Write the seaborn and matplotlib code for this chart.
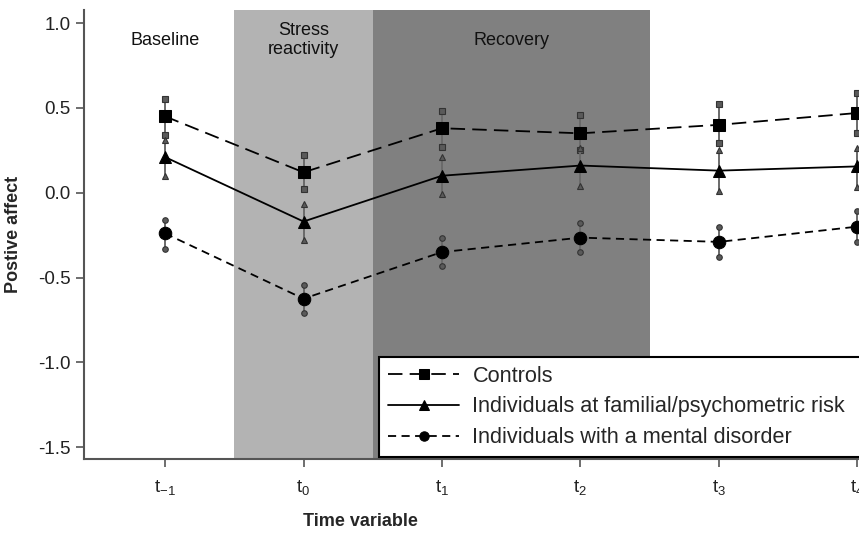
import numpy as np
import pandas as pd
import seaborn as sns
import matplotlib.pyplot as plt

time_points = [-1, 0, 1, 2, 3, 4]
time_labels = [r"$\mathregular{t_{-1}}$", r"$\mathregular{t_0}$", r"$\mathregular{t_1}$",
               r"$\mathregular{t_2}$", r"$\mathregular{t_3}$", r"$\mathregular{t_4}$"]
groups = ["Controls", "Individuals at familial/psychometric risk",
          "Individuals with a mental disorder"]

controls_mean = [0.45, 0.12, 0.38, 0.35, 0.40, 0.47]
controls_low = [0.34, 0.02, 0.27, 0.25, 0.29, 0.35]
controls_high = [0.55, 0.22, 0.48, 0.46, 0.52, 0.59]

risk_mean = [0.21, -0.17, 0.10, 0.16, 0.13, 0.155]
risk_low = [0.10, -0.28, -0.01, 0.04, 0.01, 0.035]
risk_high = [0.31, -0.065, 0.21, 0.265, 0.25, 0.265]

disorder_mean = [-0.24, -0.625, -0.35, -0.265, -0.29, -0.20]
disorder_low = [-0.33, -0.71, -0.435, -0.35, -0.38, -0.29]
disorder_high = [-0.16, -0.545, -0.27, -0.18, -0.20, -0.11]

phases = ["Baseline", "Stress\nreactivity", "Recovery"]
phase_spans = [(-0.5, 0.5, "#b3b3b3"), (0.5, 2.5, "#808080")]

df = pd.DataFrame({
    "time": time_points * 3,
    "group": np.repeat(groups, len(time_points)),
    "mean": controls_mean + risk_mean + disorder_mean,
    "low": controls_low + risk_low + disorder_low,
    "high": controls_high + risk_high + disorder_high,
})

sns.set_style("white")
plt.rcParams["font.family"] = ["Liberation Sans", "DejaVu Sans"]

fig = plt.figure(figsize=(8.59, 5.34), dpi=100)
ax = fig.add_axes([84 / 859, 75 / 534, 854.5 / 859, 449 / 534])

for x0, x1, col in phase_spans:
    ax.axvspan(x0, x1, color=col, lw=0, zorder=0)

markers = {groups[0]: "s", groups[1]: "^", groups[2]: "o"}
dashes = {groups[0]: (8, 4), groups[1]: "", groups[2]: (4.5, 3)}
sns.lineplot(data=df, x="time", y="mean", style="group", style_order=groups,
             markers=markers, dashes=dashes, color="black", lw=1.3,
             markersize=9, markeredgecolor="black", legend=False, ax=ax, zorder=4)
handles = list(ax.lines[:3])

for g in groups:
    d = df[df["group"] == g]
    ax.vlines(d["time"], d["low"], d["high"], color="#6a6a6a", lw=1.4, zorder=3)
    for col in ["low", "high"]:
        ax.plot(d["time"], d[col], ls="none", marker=markers[g], ms=4,
                color="#5a5a5a", mec="#333333", mew=0.8, zorder=3)

for x, txt in zip([-1, 0, 1.5], phases):
    ax.text(x, 0.9, txt, ha="center", va="center", fontsize=13, color="#111111")

ax.set_xlim(-1.585, 4.585)
ax.set_ylim(-1.57, 1.077)
ax.set_xticks(time_points)
ax.set_xticklabels(time_labels)
ax.set_yticks([-1.5, -1.0, -0.5, 0.0, 0.5, 1.0])
ax.set_yticklabels(["-1.5", "-1.0", "-0.5", "0.0", "0.5", "1.0"])
ax.tick_params(axis="both", direction="out", length=6, width=1.2, color="#555555",
               labelsize=13.5, labelcolor="#222222", bottom=True, left=True)
ax.tick_params(axis="x", pad=8)

for side in ["top", "right"]:
    ax.spines[side].set_visible(False)
for side in ["left", "bottom"]:
    ax.spines[side].set_color("#555555")
    ax.spines[side].set_linewidth(1.5)

ax.set_xlabel("Time variable", fontsize=13, fontweight="bold")
ax.set_ylabel("Postive affect", fontsize=13, fontweight="bold", labelpad=12)
ax.xaxis.set_label_coords((360 - 84) / 854.5, -0.12)

# legend runs off the right edge, as in the cropped original
leg = ax.legend(handles, groups, loc="lower left",
                bbox_to_anchor=(0.345, 0.004, 0.75, 0.2), mode="expand",
                fontsize=15.6, frameon=True, fancybox=False, handlelength=3.3,
                markerscale=0.75, borderpad=0.42, labelspacing=0.45,
                handletextpad=0.6, borderaxespad=0)
leg.get_frame().set_edgecolor("black")
leg.get_frame().set_linewidth(1.5)
leg.get_frame().set_alpha(1)
leg.set_zorder(10)

fig.savefig("out.png", dpi=100)
